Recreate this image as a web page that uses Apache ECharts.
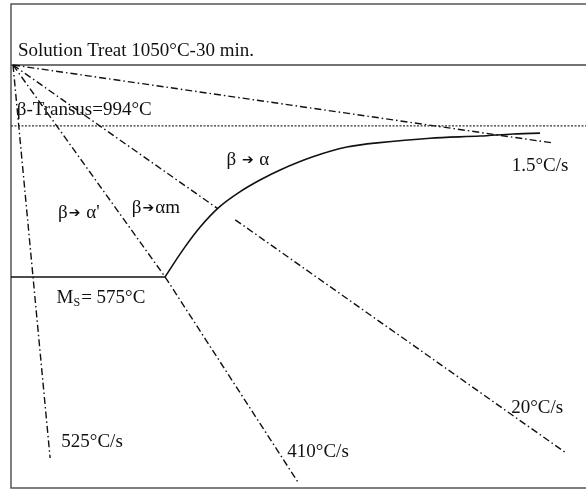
<!DOCTYPE html>
<html>
<head>
<meta charset="utf-8">
<script src="https://cdn.jsdelivr.net/npm/echarts@6/dist/echarts.min.js"></script>
<style>
html,body{margin:0;padding:0;background:#fff;}
#chart{width:586px;height:490px;}
</style>
</head>
<body>
<div id="chart"></div>
<script>
// ---- Data (schematic units: x = time, y = temperature level; 100 = 1050°C start) ----
const titleText = 'Solution Treat 1050°C-30 min.';
const betaTransusLevel = 85.6;     // 994°C
const msLevel = 49.9;              // 575°C
const msEndX = 26.8;
const transformCurve = [
  [26.8, 49.9], [29.9, 56.3], [32.9, 61.7], [36.2, 66.4], [39.8, 70.0],
  [43.3, 72.8], [46.8, 75.2], [52.5, 78.3], [58.4, 80.6], [63.7, 81.6],
  [72.9, 82.7], [81.6, 83.2], [87.3, 83.7], [92.0, 83.9]
];
const cool1_5 = [[0.35, 100], [94.1, 81.6]];
const cool20a = [[0.35, 100], [36.0, 66.0]];
const cool20b = [[39.0, 63.4], [96.3, 8.5]];
const cool410 = [[0.35, 100], [26.8, 49.9], [49.9, 1.4]];
const cool525 = [[0.35, 100], [6.8, 7.1]];
const labels = [
  {text: 'β-Transus=994°C', at: [1.0, 89.4], align: 'left'},
  {text: 'β {a|➔} α', at: [41.2, 77.5]},
  {text: "β{a|➔} α'", at: [11.8, 65.0]},
  {text: 'β{a|➔}αm', at: [25.2, 66.2]},
  {text: 'M{s|S}= 575°C', at: [15.65, 44.9]},
  {text: '1.5°C/s', at: [92.0, 76.1]},
  {text: '20°C/s', at: [91.5, 18.9]},
  {text: '525°C/s', at: [14.1, 10.9]},
  {text: '410°C/s', at: [53.4, 8.5]}
];

const FONT = 'Liberation Serif';
const ink = '#111';
const dashDot = [7, 3, 1.5, 3];

const chart = echarts.init(document.getElementById('chart'), null, {renderer: 'canvas'});

function lineSeries(data, style) {
  return {
    type: 'line', data: data, symbol: 'none', animation: false, silent: true,
    lineStyle: Object.assign({color: ink, width: 1.4}, style)
  };
}

chart.setOption({
  animation: false,
  backgroundColor: '#fff',
  grid: {left: 11, right: 0, top: 65, bottom: 2},
  xAxis: {type: 'value', min: 0, max: 100, show: false},
  yAxis: {type: 'value', min: 0, max: 100, show: false},
  series: [
    lineSeries([[0, betaTransusLevel], [100, betaTransusLevel]], {type: [2, 1.5], width: 1.2, color: '#333'}),
    lineSeries([[0, msLevel], [msEndX, msLevel]], {width: 1.5}),
    Object.assign(lineSeries(transformCurve, {width: 1.6}), {smooth: 0.3}),
    lineSeries(cool1_5, {type: dashDot}),
    lineSeries(cool20a, {type: dashDot}),
    lineSeries(cool20b, {type: dashDot}),
    lineSeries(cool410, {type: dashDot}),
    lineSeries(cool525, {type: dashDot})
  ]
});

const rich = {
  s: {font: '12px "' + FONT + '"', fill: ink, padding: [9, 1, 0, 0]},
  a: {font: '14px "DejaVu Sans"', fill: ink, padding: [0, 1, 0, 1]}
};
const textEls = labels.map(l => {
  const p = chart.convertToPixel({gridIndex: 0}, l.at);
  return {
    type: 'text', x: p[0], y: p[1], silent: true,
    style: {
      text: l.text, font: '19px "' + FONT + '"', fill: ink,
      align: l.align || 'center', verticalAlign: 'middle', rich: rich
    }
  };
});

chart.setOption({
  graphic: [
    {type: 'rect', shape: {x: 11, y: 4, width: 590, height: 484},
     style: {fill: 'none', stroke: '#555', lineWidth: 1.5}, silent: true},
    {type: 'line', shape: {x1: 11, y1: 65, x2: 586, y2: 65},
     style: {stroke: '#444', lineWidth: 1.5}, silent: true},
    {type: 'text', x: 18, y: 51, silent: true,
     style: {text: titleText, font: '19px "' + FONT + '"', fill: ink, verticalAlign: 'middle'}}
  ].concat(textEls)
});
</script>
</body>
</html>
